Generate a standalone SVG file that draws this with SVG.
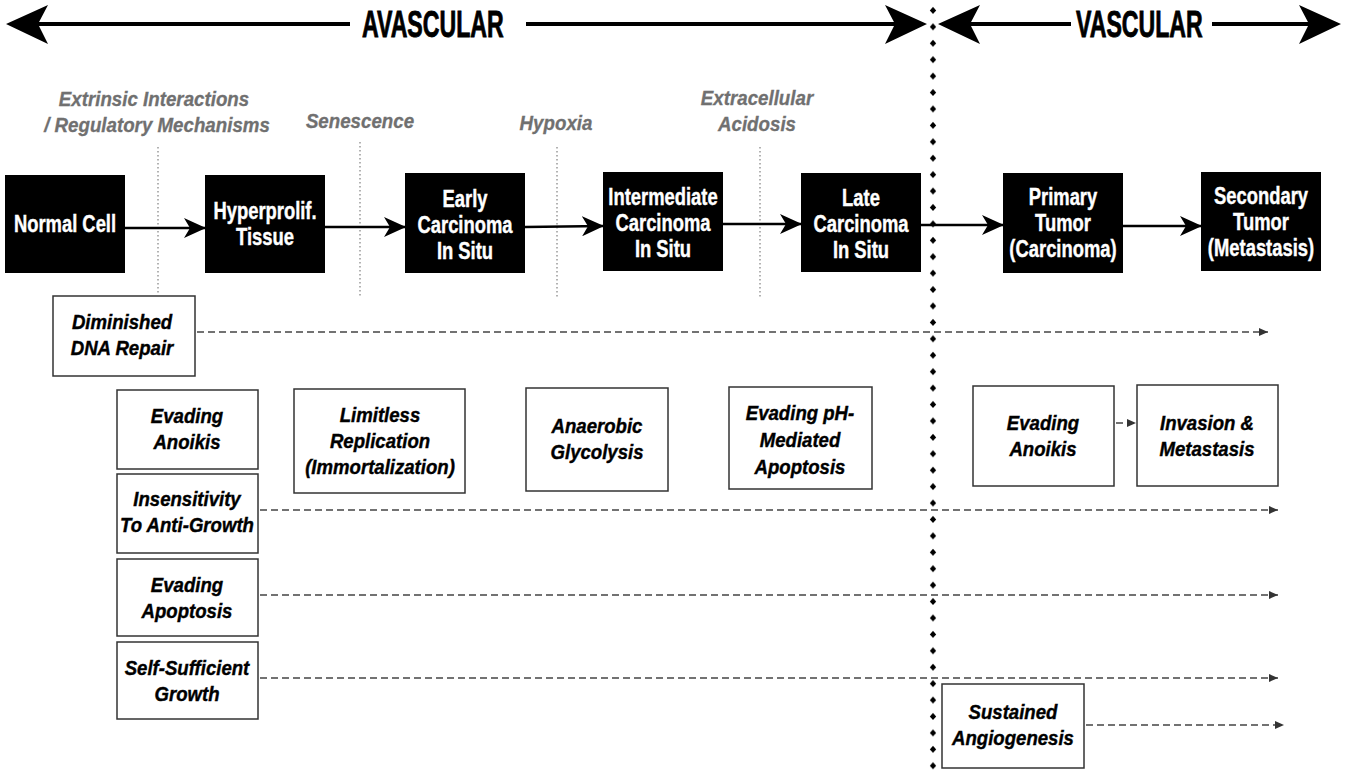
<svg xmlns="http://www.w3.org/2000/svg" width="1350" height="771" viewBox="0 0 1350 771">
<defs>
<style>
.big{font-family:"Liberation Sans",Arial,sans-serif;font-weight:bold;font-size:34px;fill:#000;stroke:#000;stroke-width:0.8}
.bt{font-family:"Liberation Sans",Arial,sans-serif;font-weight:bold;font-size:23px;fill:#fff;stroke:#fff;stroke-width:0.4;text-anchor:middle}
.wt{font-family:"Liberation Sans",Arial,sans-serif;font-weight:bold;font-style:italic;font-size:20px;fill:#000;stroke:#000;stroke-width:0.4;text-anchor:middle}
.gt{font-family:"Liberation Sans",Arial,sans-serif;font-weight:bold;font-style:italic;font-size:19.5px;fill:#707070;stroke:#707070;stroke-width:0.3;text-anchor:middle}
.bb{fill:#000}
.wb{fill:#fff;stroke:#333;stroke-width:1.5}
.solid{stroke:#000;stroke-width:2.5;fill:none;marker-end:url(#stealth)}
.dash{stroke:#444;stroke-width:1.5;stroke-dasharray:7 4;fill:none;marker-end:url(#tri)}
.dot{stroke:#999;stroke-width:1.5;stroke-dasharray:1.5 2.5;fill:none}
.big-line{stroke:#000;stroke-width:4;fill:none}
</style>
<marker id="stealth" viewBox="0 0 22 20" refX="21" refY="10" markerWidth="22" markerHeight="20" markerUnits="userSpaceOnUse" orient="auto">
<path d="M0,0 L22,10 L0,20 L6,10 Z" fill="#000"/>
</marker>
<marker id="tri" viewBox="0 0 9 8" refX="9" refY="4" markerWidth="9" markerHeight="8" markerUnits="userSpaceOnUse" orient="auto">
<path d="M0,0 L9,4 L0,8 Z" fill="#333"/>
</marker>
<pattern id="diam" x="928" y="2.3" width="10" height="16.42" patternUnits="userSpaceOnUse">
<path d="M5,4.7 L8.2,8.2 L5,11.7 L1.8,8.2 Z" fill="#000"/>
</pattern>
</defs>
<rect width="1350" height="771" fill="#fff"/>

<g id="header">
<line class="big-line" x1="30" y1="24" x2="350" y2="24"/>
<path d="M6,24 L48,5 L38,24 L48,44 Z" fill="#000"/>
<text class="big" transform="translate(362,37) scale(0.68,1.08)">AVASCULAR</text>
<line class="big-line" x1="526" y1="24" x2="905" y2="24"/>
<path d="M927,24 L885,5 L895,24 L885,44 Z" fill="#000"/>
<path d="M938,24 L980,5 L970,24 L980,44 Z" fill="#000"/>
<line class="big-line" x1="960" y1="24" x2="1071" y2="24"/>
<text class="big" transform="translate(1076,37) scale(0.68,1.08)">VASCULAR</text>
<line class="big-line" x1="1212" y1="24" x2="1320" y2="24"/>
<path d="M1341,24 L1299,5 L1309,24 L1299,44 Z" fill="#000"/>
</g>

<g id="divider">
<rect x="928" y="0" width="10" height="771" fill="url(#diam)"/>
</g>

<g id="stage-labels">
<text class="gt" transform="translate(154,106) scale(0.96,1)">Extrinsic Interactions</text>
<text class="gt" transform="translate(157,132) scale(0.96,1)">/ Regulatory Mechanisms</text>
<text class="gt" transform="translate(360,128) scale(0.96,1)">Senescence</text>
<text class="gt" transform="translate(556,130) scale(0.96,1)">Hypoxia</text>
<text class="gt" transform="translate(757,105) scale(0.96,1)">Extracellular</text>
<text class="gt" transform="translate(757,131) scale(0.96,1)">Acidosis</text>
<line class="dot" x1="158" y1="147" x2="158" y2="293"/>
<line class="dot" x1="360" y1="142" x2="360" y2="297"/>
<line class="dot" x1="557" y1="147" x2="557" y2="297"/>
<line class="dot" x1="760" y1="147" x2="760" y2="297"/>
</g>

<g id="connectors">
<line class="solid" x1="125" y1="228" x2="205" y2="228"/>
<line class="solid" x1="325" y1="227" x2="405" y2="227"/>
<line class="solid" x1="525" y1="227" x2="603" y2="226"/>
<line class="solid" x1="723" y1="224" x2="801" y2="224"/>
<line class="solid" x1="921" y1="225" x2="1003" y2="225"/>
<line class="solid" x1="1123" y1="226" x2="1201" y2="226"/>
<line class="dash" x1="197" y1="332" x2="1268" y2="332"/>
<line class="dash" x1="260" y1="510" x2="1278" y2="510"/>
<line class="dash" x1="260" y1="595" x2="1278" y2="595"/>
<line class="dash" x1="260" y1="678" x2="1278" y2="678"/>
<line class="dash" x1="1086" y1="725" x2="1284" y2="725"/>
<line class="dash" x1="1116" y1="423" x2="1136" y2="423"/>
</g>

<g id="normal-cell">
<rect class="bb" x="5" y="175" width="120" height="98"/>
<text class="bt" transform="translate(65,232) scale(0.8,1)">Normal Cell</text>
</g>
<g id="hyperprolif">
<rect class="bb" x="205" y="175" width="120" height="98"/>
<text class="bt" transform="translate(265,219) scale(0.8,1)">Hyperprolif.</text>
<text class="bt" transform="translate(265,245) scale(0.8,1)">Tissue</text>
</g>
<g id="early">
<rect class="bb" x="405" y="173" width="120" height="100"/>
<text class="bt" transform="translate(465,207) scale(0.8,1)">Early</text>
<text class="bt" transform="translate(465,233) scale(0.8,1)">Carcinoma</text>
<text class="bt" transform="translate(465,259) scale(0.8,1)">In Situ</text>
</g>
<g id="intermediate">
<rect class="bb" x="603" y="172" width="120" height="99"/>
<text class="bt" transform="translate(663,205) scale(0.8,1)">Intermediate</text>
<text class="bt" transform="translate(663,231) scale(0.8,1)">Carcinoma</text>
<text class="bt" transform="translate(663,257) scale(0.8,1)">In Situ</text>
</g>
<g id="late">
<rect class="bb" x="801" y="173" width="120" height="99"/>
<text class="bt" transform="translate(861,206) scale(0.8,1)">Late</text>
<text class="bt" transform="translate(861,232) scale(0.8,1)">Carcinoma</text>
<text class="bt" transform="translate(861,258) scale(0.8,1)">In Situ</text>
</g>
<g id="primary">
<rect class="bb" x="1003" y="173" width="120" height="100"/>
<text class="bt" transform="translate(1063,205) scale(0.8,1)">Primary</text>
<text class="bt" transform="translate(1063,231) scale(0.8,1)">Tumor</text>
<text class="bt" transform="translate(1063,257) scale(0.8,1)">(Carcinoma)</text>
</g>
<g id="secondary">
<rect class="bb" x="1201" y="172" width="120" height="99"/>
<text class="bt" transform="translate(1261,204) scale(0.8,1)">Secondary</text>
<text class="bt" transform="translate(1261,230) scale(0.8,1)">Tumor</text>
<text class="bt" transform="translate(1261,256) scale(0.8,1)">(Metastasis)</text>
</g>

<g id="dna-repair">
<rect class="wb" x="53" y="296" width="142" height="80"/>
<text class="wt" transform="translate(122,329) scale(0.93,1)">Diminished</text>
<text class="wt" transform="translate(122,355) scale(0.93,1)">DNA Repair</text>
</g>
<g id="anoikis-1">
<rect class="wb" x="117" y="390" width="141" height="79"/>
<text class="wt" transform="translate(187,423) scale(0.93,1)">Evading</text>
<text class="wt" transform="translate(187,449) scale(0.93,1)">Anoikis</text>
</g>
<g id="insensitivity">
<rect class="wb" x="117" y="474" width="141" height="79"/>
<text class="wt" transform="translate(187,506) scale(0.93,1)">Insensitivity</text>
<text class="wt" transform="translate(187,532) scale(0.93,1)">To Anti-Growth</text>
</g>
<g id="apoptosis">
<rect class="wb" x="117" y="559" width="141" height="77"/>
<text class="wt" transform="translate(187,592) scale(0.93,1)">Evading</text>
<text class="wt" transform="translate(187,618) scale(0.93,1)">Apoptosis</text>
</g>
<g id="self-sufficient">
<rect class="wb" x="117" y="642" width="141" height="77"/>
<text class="wt" transform="translate(187,675) scale(0.93,1)">Self-Sufficient</text>
<text class="wt" transform="translate(187,701) scale(0.93,1)">Growth</text>
</g>
<g id="limitless">
<rect class="wb" x="294" y="389" width="171" height="104"/>
<text class="wt" transform="translate(380,422) scale(0.93,1)">Limitless</text>
<text class="wt" transform="translate(380,448) scale(0.93,1)">Replication</text>
<text class="wt" transform="translate(380,474) scale(0.93,1)">(Immortalization)</text>
</g>
<g id="glycolysis">
<rect class="wb" x="526" y="388" width="142" height="103"/>
<text class="wt" transform="translate(597,433) scale(0.93,1)">Anaerobic</text>
<text class="wt" transform="translate(597,459) scale(0.93,1)">Glycolysis</text>
</g>
<g id="ph-apoptosis">
<rect class="wb" x="729" y="387" width="143" height="102"/>
<text class="wt" transform="translate(800,420) scale(0.93,1)">Evading pH-</text>
<text class="wt" transform="translate(800,447) scale(0.93,1)">Mediated</text>
<text class="wt" transform="translate(800,474) scale(0.93,1)">Apoptosis</text>
</g>
<g id="anoikis-2">
<rect class="wb" x="973" y="386" width="141" height="100"/>
<text class="wt" transform="translate(1043,430) scale(0.93,1)">Evading</text>
<text class="wt" transform="translate(1043,456) scale(0.93,1)">Anoikis</text>
</g>
<g id="invasion">
<rect class="wb" x="1137" y="385" width="141" height="101"/>
<text class="wt" transform="translate(1207,430) scale(0.93,1)">Invasion &amp;</text>
<text class="wt" transform="translate(1207,456) scale(0.93,1)">Metastasis</text>
</g>
<g id="angiogenesis">
<rect class="wb" x="942" y="684" width="142" height="84"/>
<text class="wt" transform="translate(1013,719) scale(0.93,1)">Sustained</text>
<text class="wt" transform="translate(1013,745) scale(0.93,1)">Angiogenesis</text>
</g>
</svg>
